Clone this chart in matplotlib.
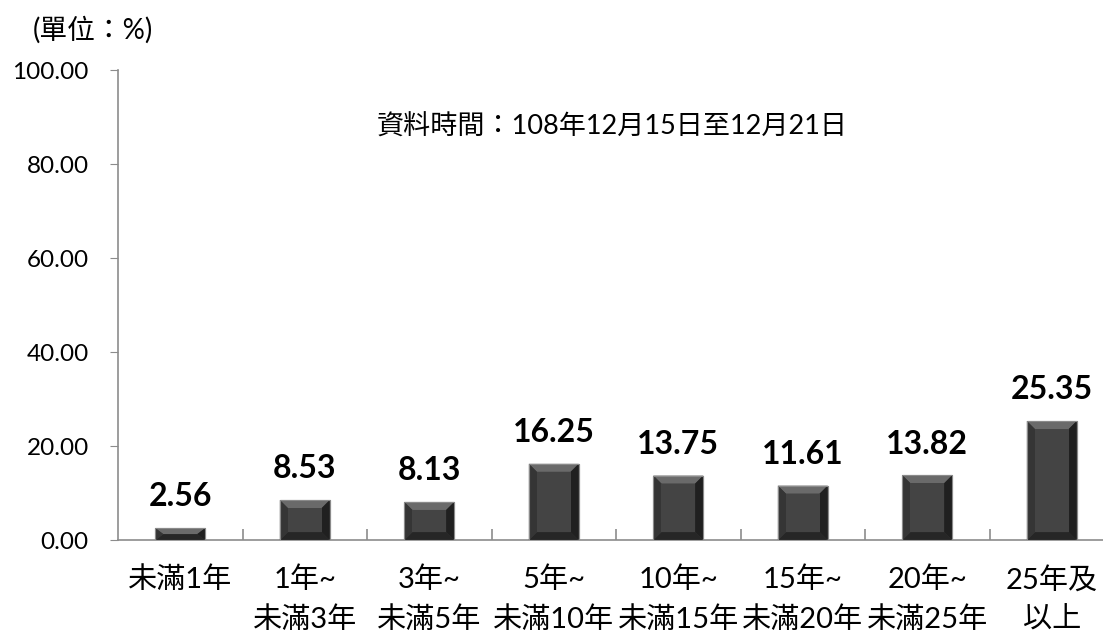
import matplotlib
matplotlib.use('Agg')
import matplotlib.pyplot as plt
from matplotlib.patches import Polygon

plt.rcParams['font.family'] = ['Lato', 'Noto Sans CJK TC', 'DejaVu Sans']

# data
categories = ['未滿1年', '1年~\n未滿3年', '3年~\n未滿5年', '5年~\n未滿10年',
              '10年~\n未滿15年', '15年~\n未滿20年', '20年~\n未滿25年', '25年及\n以上']
values = [2.56, 8.53, 8.13, 16.25, 13.75, 11.61, 13.82, 25.35]
yticks = [0, 20, 40, 60, 80, 100]
note_text = '資料時間：108年12月15日至12月21日'
unit_text = '(單位：%)'

axis_color = '#8c8c8c'

fig = plt.figure(figsize=(11.03, 6.34), dpi=100)
ax = fig.add_axes([0.107, 0.148, 0.903, 0.7413])
ax.set_xlim(-0.5, len(values) - 0.5)
ax.set_ylim(0, 100)

x = list(range(len(values)))
bars = ax.bar(x, values, width=0.4, color='#3c3c3c', edgecolor='#8a8a8a',
              linewidth=0.8, zorder=2)

# bevel look on each bar
fig.canvas.draw()
inv = ax.transData.inverted()
p0 = inv.transform((0, 0))
p1 = inv.transform((8, 8))
bx, by = p1[0] - p0[0], p1[1] - p0[1]
for b in bars:
    x0, y0 = b.get_x(), b.get_y()
    w, h = b.get_width(), b.get_height()
    x1, y1 = x0 + w, y0 + h
    ex = min(bx, w / 2)
    ey = min(by, h / 2)
    ix0, ix1, iy0, iy1 = x0 + ex, x1 - ex, y0 + ey, y1 - ey
    faces = [
        ([(x0, y1), (x1, y1), (ix1, iy1), (ix0, iy1)], '#6a6a6a'),
        ([(x0, y0), (x1, y0), (ix1, iy0), (ix0, iy0)], '#262626'),
        ([(x0, y0), (x0, y1), (ix0, iy1), (ix0, iy0)], '#353535'),
        ([(x1, y0), (x1, y1), (ix1, iy1), (ix1, iy0)], '#202020'),
    ]
    for pts, c in faces:
        ax.add_patch(Polygon(pts, closed=True, facecolor=c, edgecolor='none', zorder=3))
    if iy1 > iy0:
        ax.add_patch(Polygon([(ix0, iy0), (ix1, iy0), (ix1, iy1), (ix0, iy1)],
                             closed=True, facecolor='#444444', edgecolor='none', zorder=3))
    ax.add_patch(Polygon([(x0, y0), (x1, y0), (x1, y1), (x0, y1)], closed=True,
                         facecolor='none', edgecolor='#8a8a8a', linewidth=0.8, zorder=4))

# value labels
for xi, v in zip(x, values):
    ax.annotate(f'{v:.2f}', (xi, v), xytext=(0, 12), textcoords='offset points',
                ha='center', va='bottom', fontsize=23, fontweight='bold', color='black')

# axes styling
for s in ['top', 'right']:
    ax.spines[s].set_visible(False)
for s in ['left', 'bottom']:
    ax.spines[s].set_color(axis_color)
    ax.spines[s].set_linewidth(1.2)

ax.set_yticks(yticks)
ax.set_yticklabels([f'{t:.2f}' for t in yticks])
ax.tick_params(axis='y', direction='out', length=6, color=axis_color,
               labelsize=17.5, pad=15)

ax.set_xticks(x)
ax.set_xticklabels(categories, fontsize=21, linespacing=1.6, va='top')
ax.tick_params(axis='x', which='major', length=0, pad=19)
ax.set_xticks([i + 0.5 for i in x[:-1]], minor=True)
ax.tick_params(axis='x', which='minor', direction='in', length=8,
               color=axis_color, width=1.2)

fig.text(0.555, 0.80, note_text, fontsize=19.5, ha='center', va='center')
fig.text(0.03, 0.953, unit_text, fontsize=20, ha='left', va='center')

fig.savefig('out.png', dpi=100)
